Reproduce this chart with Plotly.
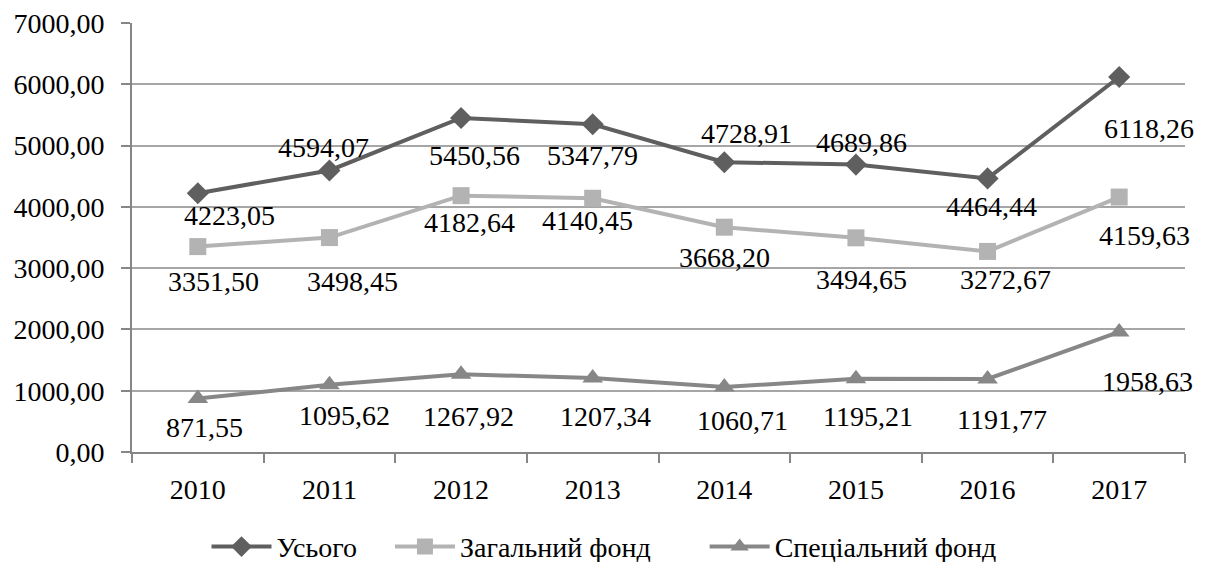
import plotly.graph_objects as go

years = ["2010", "2011", "2012", "2013", "2014", "2015", "2016", "2017"]
total = [4223.05, 4594.07, 5450.56, 5347.79, 4728.91, 4689.86, 4464.44, 6118.26]
general = [3351.50, 3498.45, 4182.64, 4140.45, 3668.20, 3494.65, 3272.67, 4159.63]
special = [871.55, 1095.62, 1267.92, 1207.34, 1060.71, 1195.21, 1191.77, 1958.63]
y_ticks = [0, 1000, 2000, 3000, 4000, 5000, 6000, 7000]

names = ["Усього", "Загальний фонд", "Спеціальний фонд"]
colors = ["#5f5f5f", "#b3b3b3", "#878787"]
symbols = ["diamond", "square", "triangle-up"]
msizes = [17, 17, 18]

# label offsets in pixels (dx right, dy down) as placed in the original chart
label_dx = [
    [32, -6, 13, 0, 22, 6, 4, 30],
    [16, 23, 8, -5, 0, 6, 18, 25],
    [7, 15, 7, 13, 18, 12, 14, 28],
]
label_dy = [
    [22, -23, 38, 31, -29, -22, 28, 51],
    [35, 44, 27, 22, 30, 42, 28, 38],
    [29, 31, 42, 38, 34, 38, 41, 50],
]

FONT = "Liberation Serif, Times New Roman, serif"
PADS = ["\u00a0" * 4, "\u00a0" * 7, ""]


def fmt(v):
    return f"{v:.2f}".replace(".", ",")


fig = go.Figure()
series = [total, general, special]
for i, vals in enumerate(series):
    fig.add_trace(go.Scatter(
        x=years, y=vals, name=names[i] + PADS[i], mode="lines+markers",
        line=dict(color=colors[i], width=4),
        marker=dict(symbol=symbols[i], size=msizes[i], color=colors[i]),
    ))
    for j, v in enumerate(vals):
        fig.add_annotation(
            x=j, y=v, text=fmt(v), showarrow=False,
            xshift=label_dx[i][j], yshift=-label_dy[i][j],
            font=dict(family=FONT, size=28, color="#000000"),
            xanchor="center", yanchor="middle",
        )

fig.update_layout(
    width=1208, height=562,
    margin=dict(l=132, r=23, t=23, b=110, autoexpand=False),
    paper_bgcolor="white", plot_bgcolor="white",
    font=dict(family=FONT, size=28, color="#000000"),
    showlegend=True,
    legend=dict(
        orientation="h", x=0.5, xref="container", xanchor="center",
        y=0.027, yref="container", yanchor="middle",
        font=dict(family=FONT, size=28, color="#000000"),
        itemwidth=60, traceorder="normal",
    ),
)
fig.update_xaxes(
    type="category", range=[-0.5, len(years) - 0.5], automargin=False,
    showgrid=False, showline=True, linecolor="#868686", linewidth=2,
    ticks="outside", tickson="boundaries", ticklen=9, tickcolor="#868686", tickwidth=2,
    tickfont=dict(family=FONT, size=28), ticklabelstandoff=11, tickangle=0,
)
fig.update_yaxes(
    range=[0, 7000], tickvals=y_ticks, ticktext=[fmt(v) for v in y_ticks], automargin=False,
    showgrid=True, gridcolor="#a6a6a6", gridwidth=2,
    showline=True, linecolor="#868686", linewidth=2,
    ticks="outside", ticklen=9, tickcolor="#868686", tickwidth=2,
    tickfont=dict(family=FONT, size=28), ticklabelstandoff=11, zeroline=False,
)

fig.write_html("out.html", config={"displayModeBar": False},
               post_script="document.body.style.margin='0';")
